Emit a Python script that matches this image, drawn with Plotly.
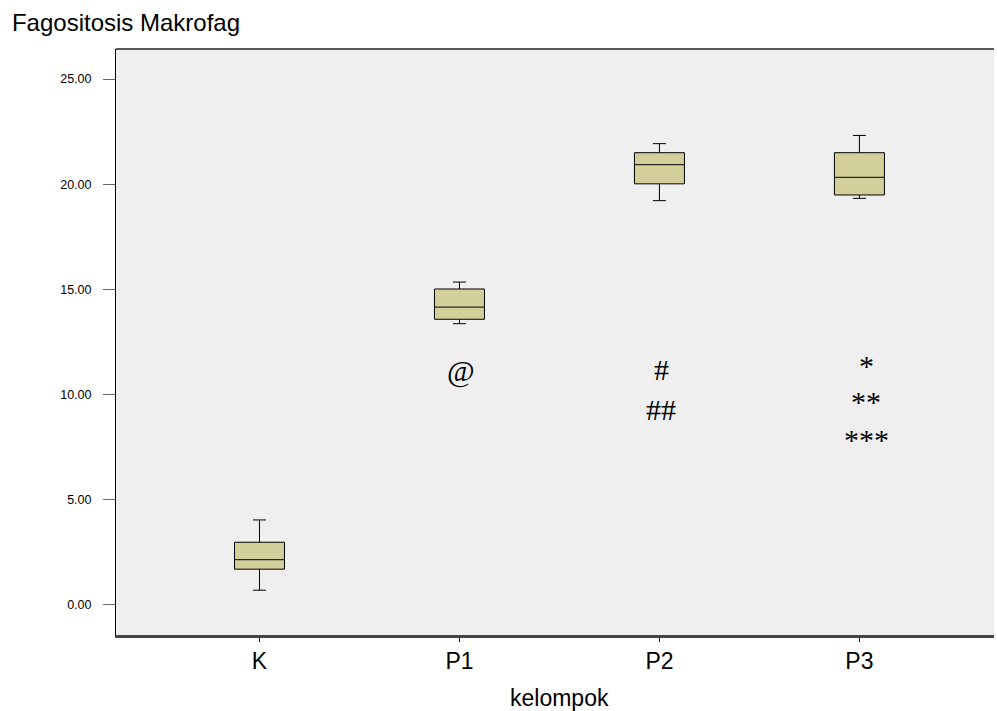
import plotly.graph_objects as go

# Group summary statistics (five-number summary per group)
groups = ["K", "P1", "P2", "P3"]
whisker_low = [0.70, 13.37, 19.22, 19.33]
q1_vals = [1.70, 13.58, 20.02, 19.49]
median_vals = [2.15, 14.16, 20.93, 20.33]
q3_vals = [2.98, 15.02, 21.50, 21.50]
whisker_high = [4.04, 15.35, 21.93, 22.32]

# Significance markers placed below the boxes
mark_text = ["@", "#", "##", "*", "**", "***"]
mark_group = ["P1", "P2", "P2", "P3", "P3", "P3"]
mark_y = [11.1, 11.2, 9.3, 11.4, 9.65, 7.85]
mark_dx = [2, 2, 2, 7, 7, 7]

y_ticks = [0, 5, 10, 15, 20, 25]
y_tick_text = ["0.00", "5.00", "10.00", "15.00", "20.00", "25.00"]

fig = go.Figure()
fig.add_trace(go.Box(
    x=groups,
    q1=q1_vals,
    median=median_vals,
    q3=q3_vals,
    lowerfence=whisker_low,
    upperfence=whisker_high,
    width=0.25,
    whiskerwidth=0.26,
    fillcolor="#D3CF9B",
    line=dict(color="#000000", width=1),
    boxpoints=False,
    hoverinfo="skip",
    showlegend=False,
))

for txt, g, yv, dx in zip(mark_text, mark_group, mark_y, mark_dx):
    fig.add_annotation(
        x=g, y=yv, text=txt, showarrow=False, xshift=dx,
        font=dict(family="Liberation Serif, Times New Roman, serif", size=30, color="#000000"),
    )

# x-axis title
fig.add_annotation(
    text="kelompok", xref="paper", yref="paper", x=0.505, y=0,
    xanchor="center", yanchor="middle", yshift=-63, showarrow=False,
    font=dict(size=23, color="#000000"),
)

# Top border of the plot frame
fig.add_shape(type="line", xref="paper", yref="paper", x0=0, x1=1, y0=1, y1=1,
              line=dict(color="#222222", width=1.5))

fig.update_layout(
    width=997, height=711,
    margin=dict(l=116, r=3, t=49, b=76),
    paper_bgcolor="#FFFFFF",
    plot_bgcolor="#EFEFEF",
    font=dict(family="Liberation Sans, Arial, sans-serif", color="#000000"),
    title=dict(text="Fagositosis Makrofag", x=0.012, xanchor="left", y=0.968, yanchor="middle",
               font=dict(size=24, color="#000000")),
    xaxis=dict(
        type="category",
        categoryorder="array", categoryarray=groups,
        range=[-0.7175, 3.673],
        showgrid=False, zeroline=False,
        showline=True, linecolor="#444444", linewidth=2.5,
        ticks="outside", ticklen=4, tickcolor="#000000", tickwidth=1,
        tickfont=dict(size=23),
    ),
    yaxis=dict(
        range=[-1.43, 26.43],
        tickvals=y_ticks, ticktext=y_tick_text,
        showgrid=False, zeroline=False,
        showline=True, linecolor="#000000", linewidth=1,
        ticks="outside", ticklen=12, tickcolor="#666666", tickwidth=1,
        tickfont=dict(size=12.5),
        ticklabelstandoff=9,
    ),
)

fig.write_html("out.html")
